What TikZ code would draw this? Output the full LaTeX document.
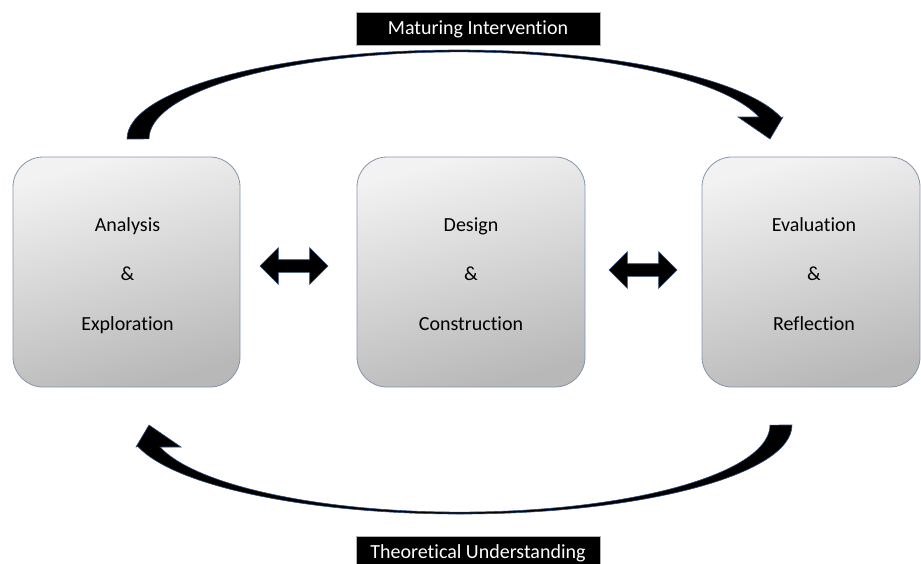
\documentclass[tikz,border=0pt]{standalone}
\usepackage{fontspec}
\setmainfont{Carlito}[Ligatures=NoCommon]
\usetikzlibrary{shapes.arrows}
\definecolor{boxtop}{RGB}{242,242,242}
\definecolor{boxbot}{RGB}{184,184,184}
\definecolor{boxedge}{RGB}{132,148,172}
\definecolor{arrowedge}{RGB}{45,75,125}
\begin{document}
\begin{tikzpicture}[x=1pt,y=1pt,
  stage/.style={draw=boxedge, line width=0.8pt, rounded corners=30pt,
    minimum width=228pt, minimum height=230pt, inner sep=0pt,
    top color=boxtop, bottom color=boxbot, shading angle=15},
  stagetext/.style={font=\fontsize{20}{24}\selectfont, text height=12.5pt, text depth=0pt, inner sep=0pt},
  banner/.style={fill=black, draw=gray!60, line width=0.5pt, text=white,
    font=\fontsize{20}{24}\selectfont, text height=12.5pt, text depth=0pt,
    minimum width=244pt, minimum height=33pt, inner sep=0pt},
  bigarrow/.style={fill=black, draw=arrowedge, line width=0.6pt, line join=miter},
  twoway/.style={double arrow, fill=black, draw=arrowedge, line width=0.6pt,
    inner xsep=0pt, inner ysep=6pt, text width=0pt, minimum height=68pt,
    double arrow head extend=12pt}
]
\useasboundingbox (0,0) rectangle (921,-563);

% stages
\node[stage, minimum width=227pt] (ae) at (126.5,-272) {};
\node[stage] (dc) at (471,-272) {};
\node[stage, minimum width=218pt] (er) at (811,-272) {};

\node[stagetext] (ae1) at ([xshift=1pt,yshift=47pt]ae.center) {Analysis};
\node[stagetext] (ae2) at ([xshift=1pt,yshift=-2.5pt]ae.center) {\&};
\node[stagetext] (ae3) at ([xshift=1pt,yshift=-52pt]ae.center) {Exploration};

\node[stagetext] (dc1) at ([yshift=47pt]dc.center) {Design};
\node[stagetext] (dc2) at ([yshift=-2.5pt]dc.center) {\&};
\node[stagetext] (dc3) at ([yshift=-52pt]dc.center) {Construction};

\node[stagetext] (er1) at ([xshift=3pt,yshift=47pt]er.center) {Evaluation};
\node[stagetext] (er2) at ([xshift=3pt,yshift=-2.5pt]er.center) {\&};
\node[stagetext] (er3) at ([xshift=3pt,yshift=-52pt]er.center) {Reflection};

% two-way arrows between stages
\node[twoway] (lr1) at (294,-266) {};
\node[twoway] (lr2) at (643,-270) {};

% banners
\node[banner] (mi) at (478,-28.5) {Maturing Intervention};
\node[banner] (tu) at (478,-552.5) {Theoretical Understanding};

% curved arrows
\draw[bigarrow] (127,-139) arc[start angle=180,end angle=14,x radius=332,y radius=89]
  -- (783,-117) -- (770,-139) -- (738,-117) -- (759,-117)
  arc[start angle=14.6,end angle=180,x radius=310,y radius=87] -- cycle;
\begin{scope}[rotate around={180:(459.5,-282)}]
\draw[bigarrow] (127,-139) arc[start angle=180,end angle=14,x radius=332,y radius=89]
  -- (783,-117) -- (770,-139) -- (738,-117) -- (759,-117)
  arc[start angle=14.6,end angle=180,x radius=310,y radius=87] -- cycle;
\end{scope}
\end{tikzpicture}
\end{document}
